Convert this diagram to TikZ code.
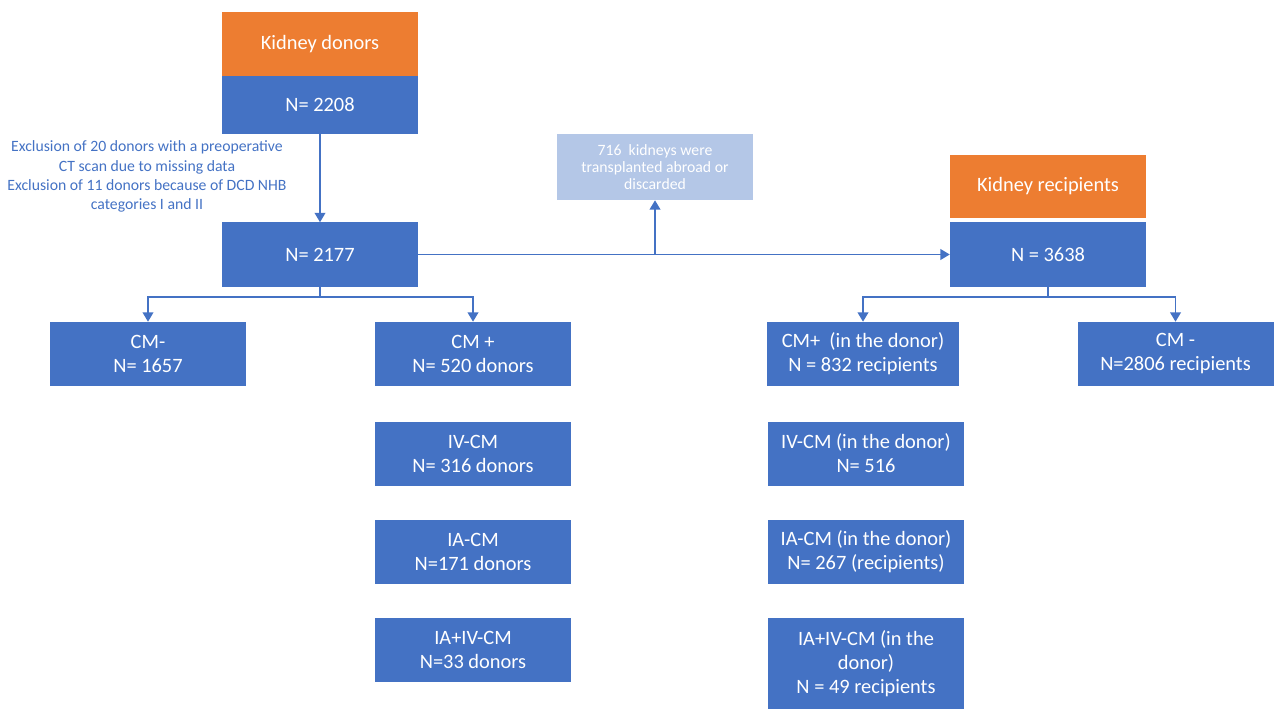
\documentclass[tikz,border=0pt]{standalone}
\usepackage{fontspec}
\setmainfont{Carlito}
\usetikzlibrary{arrows.meta}
\definecolor{kdBlue}{HTML}{4472C4}
\definecolor{kdOrange}{HTML}{ED7D31}
\definecolor{kdPale}{HTML}{B4C7E7}
\tikzset{
  kd box/.style={rectangle, fill=kdBlue, text=white, minimum width=147pt, minimum height=48pt, inner sep=0pt, align=center, font=\fontsize{15.3}{18}\selectfont},
  kd head/.style={kd box, fill=kdOrange},
  kd pale/.style={kd box, fill=kdPale, font=\fontsize{11.8}{13}\selectfont},
  kd link/.style={draw=kdBlue, line width=1.2pt, -{Triangle[length=7pt,width=8pt]}},
  kd note/.style={text=kdBlue, align=center, font=\fontsize{11.8}{14.4}\selectfont},
}
\begin{document}
\begin{tikzpicture}[x=0.75pt,y=-0.75pt]
  \useasboundingbox (0,0) rectangle (1287,709);
  % donors side
  \node[kd head] (donors) at (320,44) {Kidney donors};
  \node[kd box, minimum height=43.5pt] (n2208) at (320,105) {N= 2208};
  \node[kd box] (n2177) at (320,254.5) {N= 2177};
  \node[kd note] (excl) at (147,176.5) {Exclusion of 20 donors with a preoperative\\CT scan due to missing data\\Exclusion of 11 donors because of DCD NHB\\categories I and II};
  \node[kd box] (cmneg) at (148,354) {CM-\\N= 1657};
  \node[kd box] (cmpos) at (473,354) {CM +\\N= 520 donors};
  \node[kd box] (ivcm) at (473,453.5) {IV-CM\\N= 316 donors};
  \node[kd box] (iacm) at (473,551.5) {IA-CM\\N=171 donors};
  \node[kd box] (iaivcm) at (473,649.5) {IA+IV-CM\\N=33 donors};
  % discarded kidneys
  \node[kd pale, minimum height=49.5pt] (lost) at (655,167) {716\ \ kidneys were\\transplanted abroad or\\discarded};
  % recipients side
  \node[kd head, minimum height=47.25pt] (recip) at (1048,186.5) {Kidney recipients};
  \node[kd box] (n3638) at (1048,254.5) {N = 3638};
  \node[kd box, minimum width=144pt] (rcmpos) at (863,354) {CM+\ \ (in the donor)\\N = 832 recipients};
  \node[kd box] (rcmneg) at (1175.5,354) {CM -\\N=2806 recipients};
  \node[kd box] (rivcm) at (866,453.5) {IV-CM (in the donor)\\N= 516};
  \node[kd box] (riacm) at (866,552) {IA-CM (in the donor)\\N= 267 (recipients)};
  \node[kd box, minimum height=69pt] (riaivcm) at (866,664) {IA+IV-CM (in the\\donor)\\N = 49 recipients};
  % connectors
  \draw[kd link] (n2208.south) -- (n2177.north);
  \draw[kd link] (n2177.east) -- (n3638.west);
  \coordinate (split) at (655,254.5);
  \draw[kd link] (split) -- (lost.south);
  \draw[kd link] (n2177.south) -- ++(0,10) -| (cmneg.north);
  \draw[kd link] (n2177.south) -- ++(0,10) -| (cmpos.north);
  \draw[kd link] (n3638.south) -- ++(0,10) -| (rcmpos.north);
  \draw[kd link] (n3638.south) -- ++(0,10) -| (rcmneg.north);
\end{tikzpicture}
\end{document}
